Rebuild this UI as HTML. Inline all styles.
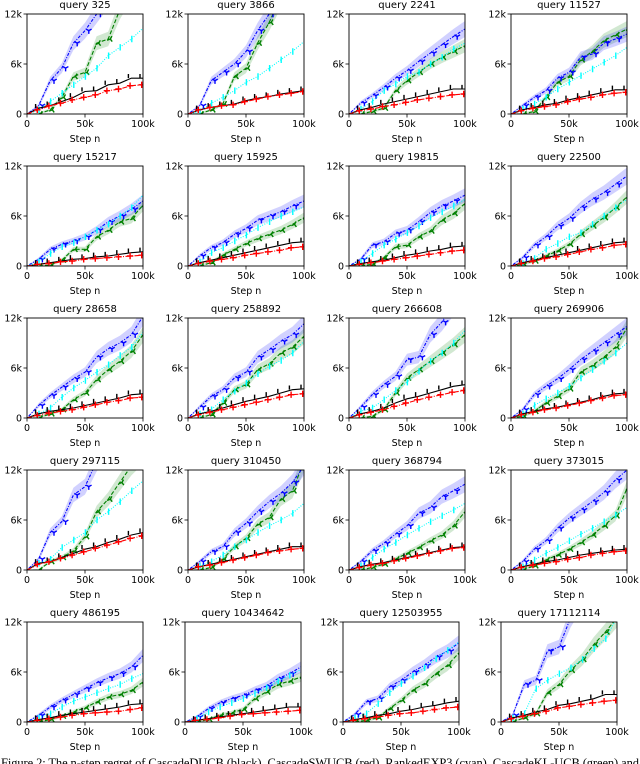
<!DOCTYPE html>
<html><head><meta charset="utf-8"><style>
html,body{margin:0;padding:0;background:#fff;}
svg{display:block;font-family:"DejaVu Sans","Liberation Sans",sans-serif;}
</style></head><body>
<svg id="fig" width="640" height="764" viewBox="0 0 640 764" xmlns="http://www.w3.org/2000/svg"></svg>
<script>
const queries = ["325","3866","2241","11527","15217","15925","19815","22500","28658","258892","266608","269906","297115","310450","368794","373015","486195","10434642","12503955","17112114"];
const steps = [0,10,20,30,40,50,60,70,80,90,100];
const xTicks = [0,50,100];
const xTickLabels = ["0","50k","100k"];
const yTicks = [0,6,12];
const yTickLabels = ["0","6k","12k"];
const blueVals = [
[0,1,4,5.5,8.5,10,12,14,16,18,20],[0,1,4,5,6,7.5,10,12,14,16,18],[0,1.3,2.2,3.2,4.3,5.2,6.3,7.3,8.3,9.3,10.2],[0,1,2,2.8,4.3,5,6.8,7.2,8.5,9,9.6],
[0,0.8,2,2.6,3,3.5,4.3,5.3,6,6.8,7.8],[0,1.2,2.2,2.8,3.8,4.5,5.5,6,6.5,7.2,7.8],[0,0.8,2.5,2.9,3.9,4.3,5.3,6.4,7.2,7.8,8.5],[0,1,2.5,3.5,4.8,5.7,7,8,8.8,9.8,10.8],
[0,1.5,2.7,3.7,4.7,5.5,7.3,8.3,9,10,12.2],[0,1.3,2.6,3.4,4.8,5.5,7.3,8.2,9.2,10,11.3],[0,1.3,2.8,4,5,7,7.3,10,11.5,13.5,15],[0,1,2.8,3.8,4.7,5.8,7,8,9,10,11],
[0,1.3,4.5,5.8,9,10,13,15,17,19,21],[0,1,2.2,2.8,4.5,5.6,7,8.2,9.2,10.5,12.5],[0,1,2.3,3.2,4.3,5.3,6.8,7.5,8.8,9.5,10.3],[0,1,2.5,3.5,5,6.2,7.2,8.2,9.3,10.8,12],
[0,0.8,1.8,2.6,3.3,4,4.7,5.3,5.8,6.6,8],[0,0.6,1.6,2.3,2.8,3.2,3.8,4.3,5.2,5.8,6.6],[0,0.9,2.4,2.8,4.2,5,6,6.8,7.8,8.5,9.5],[0,0.8,4.5,5,8.5,9,12.5,15,17,19,21]];
const cyanVals = [
[0,0.5,1.5,2.5,3.5,4.5,5.5,7,8,9,10.3],[0,0.3,1.3,2,2.8,3.8,4.5,5.5,6.5,7.5,8.7],[0,0.6,1.5,2.8,3.6,4.5,5,6,6.8,7.8,8.5],[0,0.6,1.2,2,3,3.8,4.6,5.4,6.2,7,8],
[0,0.5,1.5,2.3,2.8,3.5,4.3,5,6,7,8.5],[0,0.5,1.6,2.2,3,3.7,4.6,5.3,6,6.5,7.1],[0,0.5,1.5,2.5,3.2,4,4.8,5.8,6.5,7.2,8],[0,0.3,0.9,2,2.7,3.5,4,5,6,7,8],
[0,0.5,1.2,2.5,3.6,4.5,5.5,6.4,7.5,8.5,10.3],[0,0.5,1,2.2,3.2,4.2,5.3,6.2,6.9,7.8,9.2],[0,0.8,1.2,2.2,3.3,4.3,5.6,6.8,7.8,9,10.5],[0,0.5,1.5,2.3,3,3.8,4.8,5.8,6.8,7.8,9],
[0,0.8,1.3,2.7,3.6,4.5,6,7,8.2,9.5,10.7],[0,0.5,1,1.8,2.8,3.6,4.5,5.3,6,6.8,8],[0,0.5,1.5,2.5,3.3,4.2,5,5.8,6.5,7.2,8],[0,0.4,1.2,2,2.7,3.5,4.3,5,5.8,6.6,7.5],
[0,0.5,1,1.8,2.5,3,3.5,4,4.5,5.2,5.8],[0,0.4,1.2,1.8,2.3,2.8,3.4,4.1,4.9,5.6,6.3],[0,0.5,1,2.2,3.5,4.6,5.5,6.5,7.6,8.6,9.6],[0,0.5,1,4,5,5.8,6.5,7.5,8.8,10,12.5]];
const greenVals = [
[0,0,0.5,2,4.5,5,8.5,9,12.5,15,17],[0,0,0.5,1.2,4.5,5.5,8.5,11,14,16,18],[0,0,0.3,0.7,2.8,4,5,6,6.8,7.5,8.2],[0,0,0.3,2,3.8,4.5,6.5,7.5,8.8,9.5,10.2],
[0,0,0.1,0.7,2,2,3.5,4.3,5.3,5.7,7.3],[0,0,0.4,1.3,2,2.7,3.3,3.8,4.3,5,5.8],[0,0,0.2,1,2.3,2.5,3.5,4.2,5.5,6.3,7.5],[0,0.2,0.6,1.2,1.8,2.6,3.8,4.8,5.8,7,8.3],
[0,0,0.5,1,2.2,3,4.6,5.8,6.8,8,10],[0,0,0.4,1.8,3.4,4,5.8,6.5,7.8,8.5,9.8],[0,0,0.2,1,3,4.8,5.8,6.8,7.8,8.8,10],[0,0.2,0.8,1.8,2.6,3.5,5.5,6.3,7.3,8.5,10.8],
[0,0,1,1.5,2.3,4,7,8.5,10.5,12.5,14],[0,0,0.3,1.3,2.8,3.8,5.5,6.3,8.5,9.5,13],[0,0,0.3,0.7,1.3,2,2.7,3.5,4.2,5.3,7],[0,0,0.5,1.2,1.8,2.5,3.3,4.2,5.3,6.5,9.8],
[0,0,0.3,0.7,1.2,1.7,2.4,3,3.3,3.8,4.8],[0,0,0.3,0.8,1.1,1.5,2.8,3.6,4.5,4.9,5.4],[0,0,0.2,0.5,1.6,2.6,3.8,4.6,5.8,6.8,8.3],[0,0,0.5,1,3.5,4.5,6.2,7.5,9.3,10.8,12.5]];
const blackVals = [
[0,0.7,1,1.5,2,2.7,2.8,3.5,3.7,4.3,4.3],[0,0.5,0.8,1,1.2,1.6,1.9,2.1,2.4,2.6,2.8],[0,0.5,0.8,1.2,1.5,1.8,2.1,2.4,2.7,3,3],[0,0.5,0.8,1.1,1.3,1.7,2,2.3,2.6,2.9,2.9],
[0,0.2,0.4,0.6,0.8,0.9,1.1,1.2,1.4,1.6,1.7],[0,0.4,0.7,1,1.3,1.6,1.9,2.2,2.5,2.8,2.9],[0,0.3,0.5,0.7,1,1.3,1.5,1.8,2,2.3,2.4],[0,0.4,0.7,1,1.3,1.6,1.9,2.2,2.5,2.8,2.9],
[0,0.5,0.8,1,1.2,1.5,1.8,2.1,2.4,2.8,2.9],[0,0.5,0.8,1.2,1.6,2,2.3,2.6,3,3.4,3.5],[0,0.5,0.8,1.2,1.8,2.3,2.6,3,3.4,3.8,4],[0,0.5,0.8,1.1,1.3,1.6,1.9,2.2,2.6,2.9,3],
[0,0.8,1,1.5,2,2.5,2.8,3.3,3.7,4.2,4.5],[0,0.4,0.7,1,1.3,1.6,1.9,2.2,2.5,2.8,2.8],[0,0.4,0.7,0.9,1.2,1.5,1.8,2.1,2.4,2.7,2.8],[0,0.4,0.7,1,1.2,1.5,1.8,2,2.2,2.4,2.5],
[0,0.3,0.5,0.8,1,1.2,1.4,1.6,1.8,2.1,2.2],[0,0.2,0.4,0.6,0.8,1,1.2,1.4,1.6,1.8,1.8],[0,0.3,0.5,0.8,1,1.3,1.5,1.8,2,2.3,2.5],[0,0.5,0.8,1.2,1.5,2,2.2,2.5,2.8,3.3,3.3]];
const redVals = [
[0,0.5,1,1.3,1.7,2,2.3,2.8,3,3.4,3.5],[0,0.5,0.8,1,1.1,1.5,1.8,2.1,2.3,2.5,2.7],[0,0.4,0.6,0.9,1.1,1.4,1.7,1.9,2.1,2.3,2.4],[0,0.4,0.7,0.9,1.1,1.5,1.8,2,2.3,2.5,2.6],
[0,0.2,0.3,0.5,0.6,0.8,0.9,1,1.1,1.2,1.3],[0,0.3,0.6,0.8,1,1.3,1.5,1.7,1.9,2.2,2.3],[0,0.2,0.4,0.6,0.8,1,1.2,1.4,1.6,1.8,1.9],[0,0.3,0.6,0.9,1.1,1.4,1.7,2,2.2,2.5,2.6],
[0,0.3,0.6,0.8,1,1.3,1.6,1.9,2.1,2.4,2.5],[0,0.4,0.7,1,1.3,1.6,1.9,2.2,2.5,2.8,2.9],[0,0.4,0.7,1,1.4,1.8,2.2,2.5,2.8,3.1,3.3],[0,0.4,0.7,1,1.2,1.5,1.8,2.1,2.4,2.7,2.8],
[0,0.7,1,1.4,1.8,2.2,2.6,3,3.4,3.8,4.1],[0,0.4,0.6,0.9,1.2,1.5,1.8,2.1,2.3,2.5,2.6],[0,0.3,0.6,0.8,1.1,1.4,1.7,2,2.3,2.6,2.7],[0,0.3,0.6,0.8,1,1.3,1.5,1.8,2,2.2,2.3],
[0,0.2,0.4,0.6,0.8,1,1.1,1.2,1.3,1.5,1.7],[0,0.2,0.3,0.5,0.7,0.9,1,1.1,1.2,1.3,1.4],[0,0.2,0.4,0.6,0.8,1,1.1,1.3,1.5,1.7,1.8],[0,0.4,0.7,1,1.3,1.7,1.9,2.1,2.3,2.5,2.6]];

const NS="http://www.w3.org/2000/svg";
const svg=document.getElementById('fig');
function mk(tag,attrs,parent){const e=document.createElementNS(NS,tag);for(const k in attrs)e.setAttribute(k,attrs[k]);(parent||svg).appendChild(e);return e;}
const rowTops=[14,166,318,470,622];
const colLefts=[[27,188,349,511],[27,188,349,511],[27,188,349,511],[27,188,349,511],[27,185,343,501]];
const PW=116, PH=100, XMAX=100, YMAX=12;
const series=[
 {vals:blackVals,color:'#000',dash:'',mk:'vtop',band:false,name:'cascade-ducb'},
 {vals:redVals,color:'#f00',dash:'5,1.5,1,1.5',mk:'plus',band:false,name:'cascade-swucb'},
 {vals:cyanVals,color:'#00ffff',dash:'1,1.5',mk:'vline',band:false,name:'ranked-exp3'},
 {vals:greenVals,color:'#008000',dash:'4,2',mk:'tri',band:true,fill:'rgba(0,128,0,0.18)',name:'cascade-klucb'},
 {vals:blueVals,color:'#0000ff',dash:'1,1.5,3,1.5',mk:'y',band:true,fill:'rgba(0,0,255,0.18)',name:'ranked-bandit'}];
const drawOrder=[3,4,2,0,1];
function markerPath(t,x,y){
 const s=3.2;
 if(t==='plus')return `M${x-s},${y}H${x+s}M${x},${y-s}V${y+s}`;
 if(t==='vline')return `M${x},${y-s}V${y+s}`;
 if(t==='vtop')return `M${x},${y-s*1.3}V${y}`;
 if(t==='y')return `M${x},${y}V${y+s}M${x},${y}L${x-s*0.87},${y-s*0.5}M${x},${y}L${x+s*0.87},${y-s*0.5}`;
 return `M${x},${y}L${x-s},${y+s*0.4}M${x},${y}L${x+s*0.5},${y-s*0.9}M${x},${y}L${x+s*0.6},${y+s*0.8}`;
}
for(let p=0;p<queries.length;p++){
 const r=Math.floor(p/4),c=p%4;
 const L=colLefts[r][c],T=rowTops[r];
 const xs=v=>L+v/XMAX*PW, ys=v=>T+PH-v/YMAX*PH;
 const g=mk('g',{});
 
 
 const cp=mk('clipPath',{id:'cp'+p},g);mk('rect',{x:L,y:T,width:PW,height:PH},cp);
 const plot=mk('g',{'clip-path':'url(#cp'+p+')'},g);
 for(const si of drawOrder){const s=series[si];if(!s.band)continue;const v=s.vals[p];
  let up=steps.map((x,i)=>xs(x)+','+ys(v[i]*1.08+0.15*(i>0))).join(' ');
  let dn=steps.map((x,i)=>xs(x)+','+ys(Math.max(0,v[i]*0.92-0.15*(i>0)))).reverse().join(' ');
  const b=mk('polygon',{points:up+' '+dn,fill:s.fill,stroke:'none'},plot);
  
  }
 for(const si of drawOrder){const s=series[si];const v=s.vals[p];
  const pts=steps.map((x,i)=>xs(x)+','+ys(v[i])).join(' ');
  const ln=mk('polyline',{points:pts,fill:'none',stroke:s.color,'stroke-width':1.1,'stroke-dasharray':s.dash},plot);
  
  
  let d='';for(let i=1;i<steps.length;i++){const xo=(si*1.7)-3;d+=markerPath(s.mk,xs(steps[i])+xo,ys(v[i]+ (steps[i]===100?0:0)));}
  const m=mk('path',{d:d,fill:'none',stroke:s.color,'stroke-width':1.4},plot);
  
  }
 const fr=mk('rect',{x:L,y:T,width:PW,height:PH,fill:'none',stroke:'#000','stroke-width':0.9},g);
 
 
 xTicks.forEach((t,i)=>{const x=xs(t);mk('line',{x1:x,y1:T+PH,x2:x,y2:T+PH+3.5,stroke:'#000','stroke-width':0.8},g);
  const tl=mk('text',{x:x,y:T+PH+13,'font-size':9.5,'text-anchor':'middle'},g);tl.textContent=xTickLabels[i];
  
  });
 yTicks.forEach((t,i)=>{const y=ys(t);mk('line',{x1:L-3.5,y1:y,x2:L,y2:y,stroke:'#000','stroke-width':0.8},g);
  const tl=mk('text',{x:L-5,y:y+3.4,'font-size':9.5,'text-anchor':'end'},g);tl.textContent=yTickLabels[i];
  
  });
 const xl=mk('text',{x:L+PW/2,y:T+PH+28,'font-size':9.5,'text-anchor':'middle'},g);xl.textContent='Step n';
 
 
 const tt=mk('text',{x:L+PW/2,y:T-6,'font-size':10,'text-anchor':'middle'},g);tt.textContent='query '+queries[p];
 
 
}
const cap=mk('text',{x:1,y:767,'font-size':12.5,'font-family':'"Liberation Serif",serif',textLength:638,lengthAdjust:'spacing'});
cap.textContent='Figure 2:  The n-step regret of CascadeDUCB (black), CascadeSWUCB (red), RankedEXP3 (cyan), CascadeKL-UCB (green) and';


</script>
</body></html>
